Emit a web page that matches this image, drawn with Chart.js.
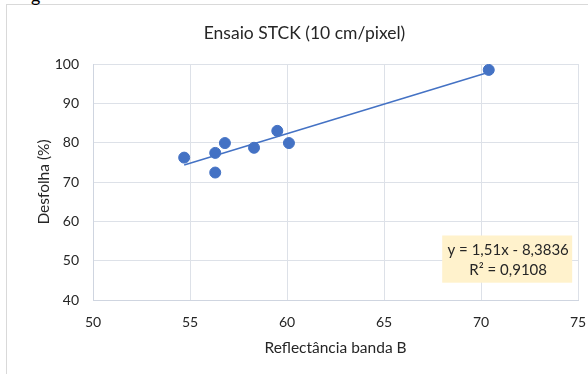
<!DOCTYPE html>
<html>
<head>
<meta charset="utf-8">
<script src="https://cdn.jsdelivr.net/npm/chart.js@4.4.1/dist/chart.umd.min.js"></script>
<style>
  body { margin: 0; background: #fff; font-family: Lato, sans-serif; }
  #wrap { position: relative; width: 588px; height: 374px; overflow: hidden; }
  #frame { position: absolute; left: 6px; top: 4px; width: 640px; height: 400px; border: 1px solid #d9d9d9; }
  #cut { position: absolute; left: 31px; top: -16px; font-size: 18px; color: #000; }
  canvas { position: absolute; left: 0; top: 0; }
</style>
</head>
<body>
<div id="wrap">
  <div id="frame"></div>
  <div id="cut">g</div>
  <canvas id="c" width="588" height="374"></canvas>
</div>
<script>
// reflectancia banda B vs desfolha
const reflectancia = [54.7, 56.3, 56.3, 56.8, 58.3, 59.5, 60.1, 70.4];
const desfolha = [76.2, 77.4, 72.4, 79.9, 78.7, 83.0, 79.9, 98.5];
// linha de tendencia (pontas)
const trendX = [54.7, 70.4];
const trendY = [74.3, 97.9];
const equationText = ['y = 1,51x - 8,3836', 'R² = 0,9108'];

const blue = '#4472C4';
const gridCol = '#dde1e8';
const txt = '#262626';

const labelBox = {
  id: 'labelBox',
  afterLayout(chart) {
    // excel centra o titulo na moldura, nao no canvas
    chart.titleBlock.left += 21;
  },
  afterDatasetsDraw(chart) {
    const {ctx, scales: {x, y}} = chart;
    const x0 = x.getPixelForValue(68.0), x1 = x.getPixelForValue(74.7);
    const y0 = y.getPixelForValue(56.4), y1 = y.getPixelForValue(44.4);
    ctx.save();
    ctx.fillStyle = '#fff2cc';
    ctx.fillRect(x0, y0, x1 - x0, y1 - y0);
    ctx.fillStyle = txt;
    ctx.font = '15px Lato';
    ctx.textAlign = 'center';
    ctx.textBaseline = 'middle';
    const cx = x.getPixelForValue(71.4);
    ctx.fillText(equationText[0], cx, y.getPixelForValue(52.6));
    ctx.fillText(equationText[1], cx, y.getPixelForValue(47.5));
    ctx.restore();
  }
};

new Chart(document.getElementById('c'), {
  type: 'scatter',
  data: {
    datasets: [
      {
        label: 'Desfolha',
        data: reflectancia.map((v, i) => ({x: v, y: desfolha[i]})),
        backgroundColor: blue,
        borderColor: blue,
        pointRadius: 5.5,
        pointHoverRadius: 5.5
      },
      {
        label: 'Tendencia',
        type: 'line',
        data: trendX.map((v, i) => ({x: v, y: trendY[i]})),
        borderColor: blue,
        borderWidth: 1.5,
        pointRadius: 0,
        fill: false
      }
    ]
  },
  options: {
    responsive: false,
    animation: false,
    layout: { padding: { left: 0, right: 0, top: 0, bottom: 0 } },
    plugins: {
      legend: { display: false },
      tooltip: { enabled: false },
      title: {
        display: true,
        text: 'Ensaio STCK (10 cm/pixel)',
        color: txt,
        font: { family: 'Lato', size: 17.5, weight: 'normal' },
        padding: { top: 23, bottom: 20 }
      }
    },
    scales: {
      x: {
        type: 'linear',
        min: 50, max: 75,
        afterFit: s => { s.height = 74; s.paddingRight = 10; },
        ticks: { stepSize: 5, color: txt, padding: 14, font: { family: 'Lato', size: 14 } },
        grid: { color: gridCol, drawTicks: false },
        border: { color: '#cfd5e0' },
        title: { display: true, text: 'Reflectância banda B', color: txt, font: { family: 'Lato', size: 15.5 }, padding: { top: 17, bottom: 17 } }
      },
      y: {
        min: 40, max: 100,
        afterFit: s => { s.width = 93; },
        ticks: { stepSize: 10, color: txt, padding: 14, font: { family: 'Lato', size: 14 } },
        grid: { color: gridCol, drawTicks: false },
        border: { color: '#cfd5e0' },
        title: { display: true, text: 'Desfolha (%)', color: txt, font: { family: 'Lato', size: 15.5 }, padding: { top: 35, bottom: 35 } }
      }
    }
  },
  plugins: [labelBox]
});
</script>
</body>
</html>
